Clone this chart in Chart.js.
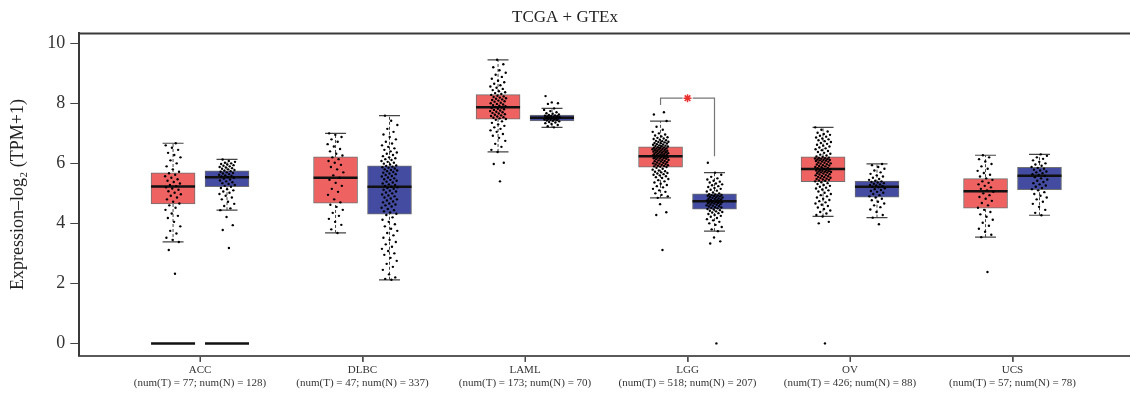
<!DOCTYPE html>
<html><head><meta charset="utf-8">
<script src="https://cdn.jsdelivr.net/npm/chart.js@4.4.1/dist/chart.umd.min.js"></script>
<style>html,body{margin:0;padding:0;background:#fff;overflow:hidden}canvas{display:block}</style>
</head><body>
<canvas id="c" width="1130" height="395"></canvas>
<script>
// ---------- data ----------
const categories = ['ACC','DLBC','LAML','LGG','OV','UCS'];
const sampleCounts = ['(num(T) = 77; num(N) = 128)','(num(T) = 47; num(N) = 337)','(num(T) = 173; num(N) = 70)','(num(T) = 518; num(N) = 207)','(num(T) = 426; num(N) = 88)','(num(T) = 57; num(N) = 78)'];
const yTicks = [0,2,4,6,8,10];
// [whiskerLow, Q1, median, Q3, whiskerHigh]
const tumorStats  = [[3.38,4.65,5.23,5.68,6.67],[3.68,4.67,5.52,6.22,7.00],[6.38,7.47,7.87,8.29,9.45],[4.85,5.87,6.24,6.55,7.41],[4.23,5.39,5.81,6.22,7.20],[3.54,4.51,5.07,5.49,6.27]];
const normalStats = [[4.44,5.22,5.54,5.75,6.13],[2.12,4.31,5.22,5.92,7.59],[7.20,7.41,7.52,7.61,7.83],[3.74,4.47,4.74,4.98,5.69],[4.19,4.87,5.22,5.41,5.98],[4.27,5.12,5.59,5.87,6.30]];
// flat line of zero-valued samples (ACC only)
const zeroLineT = [0,null,null,null,null,null];
const zeroLineN = [0,null,null,null,null,null];
// significance bracket (LGG)
const sigCategory = 3, sigLeftY = 7.94, sigTopY = 8.17, sigRightY = 6.24;

// individual samples
const accT = [2.32,3.11,3.38,3.45,3.52,3.66,3.75,3.9,4.05,4.18,4.25,4.33,4.45,4.52,4.6,4.66,4.72,4.8,4.86,4.92,4.97,5.02,5.07,5.12,5.16,5.2,5.24,5.28,5.33,5.38,5.42,5.47,5.52,5.57,5.62,5.67,5.72,5.8,5.9,6.0,6.1,6.2,6.28,6.35,6.45,6.52,6.6,6.67];
const accN = [3.18,3.78,3.94,4.21,4.44,4.5,4.58,4.65,4.72,4.8,4.86,4.92,4.98,5.02,5.06,5.1,5.14,5.18,5.22,5.25,5.28,5.31,5.34,5.37,5.4,5.43,5.46,5.49,5.52,5.54,5.56,5.58,5.6,5.62,5.64,5.66,5.68,5.7,5.72,5.74,5.76,5.78,5.8,5.82,5.84,5.86,5.88,5.9,5.92,5.94,5.96,5.98,6.0,6.02,6.05,6.08,6.13];
const dlbcT = [3.68,3.8,3.95,4.05,4.15,4.25,4.35,4.45,4.55,4.62,4.7,4.8,4.95,5.05,5.15,5.25,5.35,5.45,5.52,5.6,5.7,5.8,5.88,5.95,6.02,6.08,6.14,6.2,6.26,6.32,6.4,6.48,6.56,6.64,6.72,6.8,6.88,6.95,7.0];
const dlbcN = [2.12,2.15,2.2,2.3,2.45,2.55,2.65,2.75,2.85,2.95,3.0,3.08,3.15,3.22,3.3,3.38,3.45,3.52,3.6,3.68,3.75,3.82,3.9,3.97,4.05,4.12,4.2,4.28,
 4.32,4.36,4.4,4.44,4.48,4.52,4.56,4.6,4.63,4.66,4.7,4.73,4.76,4.8,4.83,4.86,4.9,4.93,4.96,5.0,5.03,5.06,5.09,5.12,5.15,5.18,5.2,5.22,
 5.25,5.28,5.3,5.33,5.36,5.39,5.42,5.45,5.47,5.5,5.53,5.56,5.58,5.61,5.64,5.66,5.69,5.71,5.74,5.76,5.78,5.8,5.83,5.85,5.87,5.89,5.91,5.93,
 5.96,5.99,6.02,6.05,6.08,6.11,6.14,6.17,6.2,6.24,6.28,6.32,6.36,6.4,6.45,6.5,6.55,6.6,6.66,6.72,6.8,6.88,6.96,7.05,7.15,7.28,7.42,7.59];
const lamlT = [5.4,5.98,6.02,6.38,6.45,6.55,6.65,6.75,6.85,6.92,6.98,7.05,7.1,7.15,7.2,7.25,7.3,7.35,7.4,7.45,
 7.48,7.5,7.52,7.54,7.56,7.58,7.6,7.62,7.64,7.66,7.68,7.7,7.72,7.74,7.76,7.78,7.8,7.82,7.84,7.86,
 7.88,7.9,7.92,7.94,7.96,7.98,8.0,8.02,8.05,8.07,8.09,8.11,8.13,8.15,8.17,8.19,8.21,8.23,8.25,8.28,
 8.31,8.34,8.37,8.4,8.44,8.48,8.52,8.56,8.6,8.65,8.7,8.75,8.82,8.88,8.95,9.02,9.1,9.2,9.3,9.45];
const lamlN = [7.2,7.24,7.28,7.31,7.34,7.36,7.38,7.4,7.42,7.43,7.44,7.45,7.46,7.47,7.48,7.49,7.5,7.51,7.52,7.53,7.54,7.55,7.56,7.57,7.58,7.59,7.6,7.61,7.63,7.65,7.67,7.7,7.74,7.78,7.83,7.98,8.0,8.03,8.24];
const lggT = [3.11,4.28,4.37,4.64,7.63,7.7,
 4.85,4.9,4.95,5.0,5.05,5.1,5.15,5.2,5.24,5.28,5.32,5.36,5.4,5.44,5.48,5.51,5.54,5.57,5.6,5.62,5.64,5.66,5.68,5.7,5.72,5.74,5.76,5.79,5.82,5.85,
 5.88,5.89,5.9,5.91,5.92,5.94,5.95,5.96,5.98,5.99,6.0,6.02,6.03,6.04,6.06,6.07,6.08,6.1,6.11,6.12,6.14,6.15,6.16,6.17,6.18,6.19,6.2,6.21,6.22,6.23,
 6.25,6.26,6.27,6.28,6.29,6.3,6.31,6.32,6.33,6.34,6.35,6.36,6.37,6.38,6.39,6.4,6.41,6.42,6.43,6.44,6.45,6.46,6.47,6.48,6.49,6.5,6.51,6.52,6.53,6.54,
 6.56,6.57,6.58,6.59,6.6,6.62,6.63,6.64,6.66,6.67,6.68,6.7,6.71,6.72,6.74,6.75,6.77,6.79,6.81,6.83,6.85,6.87,6.9,6.93,6.96,7.0,7.05,7.12,7.22,7.41];
const lggN = [0,3.33,3.4,3.53,6.02,
 3.74,3.8,3.88,3.95,4.0,4.05,4.1,4.14,4.18,4.22,4.25,4.28,4.31,4.34,4.36,4.38,4.4,4.42,4.44,4.46,
 4.48,4.5,4.51,4.53,4.54,4.56,4.57,4.59,4.6,4.62,4.63,4.64,4.66,4.67,4.68,4.69,4.7,4.71,4.72,4.73,
 4.75,4.76,4.77,4.78,4.8,4.81,4.82,4.83,4.85,4.86,4.87,4.88,4.9,4.91,4.92,4.93,4.94,4.95,4.96,4.97,
 5.0,5.03,5.06,5.09,5.12,5.15,5.18,5.21,5.24,5.27,5.3,5.33,5.36,5.39,5.42,5.46,5.5,5.55,5.62,5.69];
const ovT = [0,4.0,4.05,
 4.23,4.28,4.33,4.38,4.43,4.48,4.53,4.58,4.62,4.66,4.7,4.74,4.78,4.82,4.86,4.9,4.94,4.98,5.02,5.06,5.1,5.13,5.16,5.19,5.22,5.25,5.28,5.31,5.34,5.37,
 5.4,5.42,5.43,5.45,5.46,5.48,5.49,5.51,5.52,5.54,5.55,5.57,5.58,5.6,5.61,5.63,5.64,5.66,5.67,5.69,5.7,5.71,5.72,5.73,5.74,5.75,5.76,5.77,5.78,5.8,
 5.82,5.84,5.85,5.87,5.88,5.9,5.91,5.93,5.94,5.96,5.97,5.99,6.0,6.02,6.03,6.05,6.06,6.08,6.09,6.1,6.11,6.12,6.13,6.14,6.15,6.16,6.17,6.18,6.19,6.21,
 6.23,6.26,6.29,6.32,6.35,6.38,6.41,6.44,6.47,6.5,6.53,6.56,6.59,6.62,6.65,6.68,6.71,6.74,6.77,6.8,6.83,6.86,6.89,6.92,6.95,6.98,7.02,7.06,7.12,7.2];
const ovN = [3.97,4.19,4.28,4.38,4.46,4.54,4.6,4.66,4.72,4.77,4.82,4.86,4.9,4.94,4.98,5.02,5.05,5.08,5.11,5.14,5.17,5.2,5.22,5.24,5.26,5.28,5.3,5.32,5.34,5.36,5.38,5.4,5.42,5.45,5.48,5.52,5.56,5.6,5.65,5.7,5.76,5.82,5.88,5.94,5.98];
const ucsT = [2.38,3.54,3.62,3.72,3.82,3.92,4.02,4.12,4.22,4.3,4.38,4.45,4.52,4.6,4.68,4.75,4.82,4.88,4.94,5.0,5.05,5.1,5.15,5.2,5.25,5.3,5.35,5.4,5.45,5.5,5.56,5.62,5.68,5.75,5.82,5.9,5.98,6.06,6.14,6.2,6.27];
const ucsN = [4.27,4.35,4.45,4.55,4.65,4.72,4.8,4.86,4.92,4.98,5.04,5.1,5.14,5.18,5.22,5.26,5.3,5.34,5.38,5.42,5.46,5.5,5.54,5.58,5.61,5.64,5.67,5.7,5.73,5.76,5.79,5.82,5.85,5.88,5.92,5.96,6.0,6.05,6.1,6.15,6.2,6.25,6.3];
const tumorSamples  = [accT, dlbcT, lamlT, lggT, ovT, ucsT];
const normalSamples = [accN, dlbcN, lamlN, lggN, ovN, ucsN];

// ---------- layout constants (positions, not data) ----------
const OFF = 0.166;      // group offset in category units
const JIT = 0.05;       // jitter half-width in category units
const xT = i => i - OFF, xN = i => i + OFF;
const jitter = k => (((k * 0.6180339887) % 1) - 0.5) * 2 * JIT;
const SERIF = "'Liberation Serif','DejaVu Serif',serif";

// ---------- derived datasets ----------
const whiskerData = [];
const capData = [], medianData = [];
tumorStats.forEach((s,i)=>{
  whiskerData.push({x:xT(i),y:s[0]},{x:xT(i),y:s[4]},{x:xT(i),y:null});
  capData.push({x:xT(i),y:s[0]},{x:xT(i),y:s[4]});
  medianData.push({x:xT(i),y:s[2]});
});
normalStats.forEach((s,i)=>{
  whiskerData.push({x:xN(i),y:s[0]},{x:xN(i),y:s[4]},{x:xN(i),y:null});
  capData.push({x:xN(i),y:s[0]},{x:xN(i),y:s[4]});
  medianData.push({x:xN(i),y:s[2]});
});
const zeroData = [];
zeroLineT.forEach((v,i)=>{ if(v!==null) zeroData.push({x:xT(i),y:v}); });
zeroLineN.forEach((v,i)=>{ if(v!==null) zeroData.push({x:xN(i),y:v}); });
const pointData = [];
tumorSamples.forEach((arr,i)=>arr.forEach((v,k)=>pointData.push({x:xT(i)+jitter(k+1),y:v})));
normalSamples.forEach((arr,i)=>arr.forEach((v,k)=>pointData.push({x:xN(i)+jitter(k+1),y:v})));
const bracketData = [
  {x:xT(sigCategory),y:sigLeftY},{x:xT(sigCategory),y:sigTopY},{x:sigCategory-0.03,y:sigTopY},{x:sigCategory,y:null},
  {x:sigCategory+0.032,y:sigTopY},{x:xN(sigCategory),y:sigTopY},{x:xN(sigCategory),y:sigRightY}
];

const frame = {id:'frame', afterDraw(chart){
  const {ctx, chartArea:a} = chart;
  const xs = chart.scales.x;
  ctx.save(); ctx.strokeStyle='#3a3a3a'; ctx.lineWidth=2;
  ctx.beginPath(); ctx.moveTo(a.left, a.top); ctx.lineTo(a.right, a.top); ctx.stroke();
  // x-axis tick marks at category positions
  ctx.fillStyle='#444';
  categories.forEach((c,i)=>{
    const px = Math.round(xs.getPixelForValue(i));
    ctx.fillRect(px - 0.5, Math.round(a.bottom) + 1, 1.2, 5);
  });
  ctx.restore();
}};

new Chart(document.getElementById('c'), {
  type: 'scatter',
  data: { datasets: [
    {type:'line', label:'whiskers', data:whiskerData, borderColor:'#444', borderWidth:1, borderDash:[3,2], pointRadius:0, spanGaps:false, order:10},
    {type:'bar', label:'Tumor', data:tumorStats.map((s,i)=>({x:xT(i),y:[s[1],s[3]]})), backgroundColor:'#EE6262', borderColor:'#707070', borderWidth:1, borderSkipped:false, grouped:false, barThickness:44, maxBarThickness:44, barPercentage:1, categoryPercentage:1, order:8},
    {type:'bar', label:'Normal', data:normalStats.map((s,i)=>({x:xN(i),y:[s[1],s[3]]})), backgroundColor:'#434CA0', borderColor:'#707070', borderWidth:1, borderSkipped:false, grouped:false, barThickness:44, maxBarThickness:44, barPercentage:1, categoryPercentage:1, order:8},
    {type:'scatter', label:'caps', data:capData, pointStyle:'line', pointRadius:10.5, borderColor:'#444', borderWidth:1.2, order:7},
    {type:'scatter', label:'medians', data:medianData, pointStyle:'line', pointRadius:22, borderColor:'#111', borderWidth:2.5, order:6},
    {type:'scatter', label:'zeros', data:zeroData, pointStyle:'line', pointRadius:22, borderColor:'#111', borderWidth:2.5, order:6},
    {type:'line', label:'bracket', data:bracketData, borderColor:'#777', borderWidth:1.2, pointRadius:0, spanGaps:false, order:5},
    {type:'scatter', label:'star', data:[{x:sigCategory,y:sigTopY}], pointStyle:'star', pointRadius:4, borderColor:'#e8302e', borderWidth:1.5, order:4},
    {type:'scatter', label:'samples', data:pointData, backgroundColor:'#000', borderWidth:0, pointRadius:1.2, order:1}
  ]},
  options: {
    responsive:false, animation:false, events:[],
    layout:{padding:0, autoPadding:false},
    plugins:{
      legend:{display:false}, tooltip:{enabled:false},
      title:{display:true, text:'TCGA + GTEx', color:'#222', font:{family:SERIF, size:17, weight:'normal'}, padding:{top:7, bottom:6}}
    },
    scales:{
      x:{type:'linear', min:-0.743, max:5.723, offset:false,
        afterBuildTicks:s=>{ s.ticks = categories.map((c,i)=>({value:i})); },
        afterFit:s=>{ s.height = 39.3; s.paddingLeft = 0; s.paddingRight = 0; },
        grid:{display:true, offset:false, drawOnChartArea:false, drawTicks:true, tickLength:6, color:'#555', tickColor:'#555', tickWidth:1},
        border:{display:true, color:'#5a5a5a', width:2},
        ticks:{autoSkip:false, maxRotation:0, padding:2, color:'#333', font:{family:SERIF, size:11, lineHeight:1.2},
          callback:(v,i)=>[categories[i], sampleCounts[i]]}
      },
      y:{type:'linear', min:-0.41, max:10.33,
        afterBuildTicks:s=>{ s.ticks = yTicks.map(v=>({value:v})); },
        afterFit:s=>{ s.width = 79.3; },
        grid:{display:true, drawOnChartArea:false, drawTicks:true, tickLength:9, color:'#444', tickColor:'#444', tickWidth:1},
        border:{display:true, color:'#3a3a3a', width:2},
        ticks:{padding:5, color:'#333', font:{family:SERIF, size:18}},
        title:{display:true, text:'Expression–log₂ (TPM+1)', color:'#222', font:{family:SERIF, size:18}, padding:{top:7, bottom:0}}
      }
    }
  },
  plugins:[frame]
});
</script>
</body></html>
